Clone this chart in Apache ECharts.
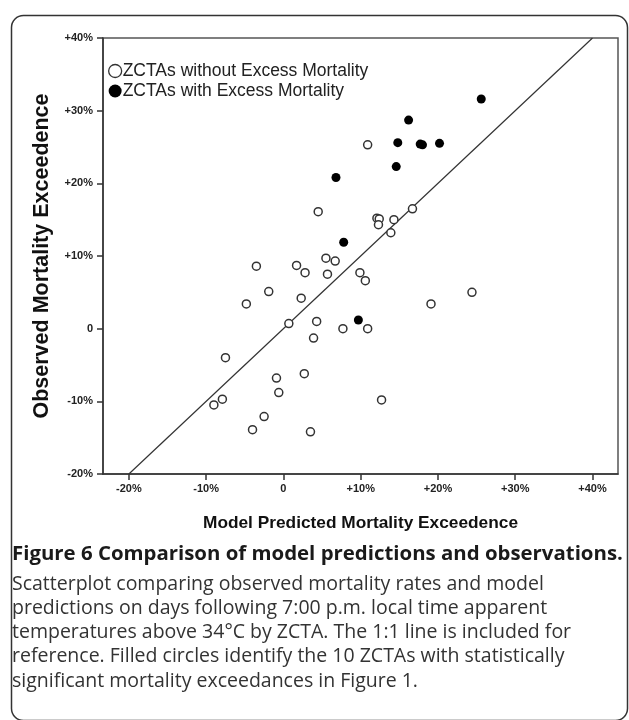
<!DOCTYPE html>
<html>
<head>
<meta charset="utf-8">
<script src="https://cdn.jsdelivr.net/npm/echarts@6/dist/echarts.min.js"></script>
<style>
  html, body { margin: 0; padding: 0; background: #fff; }
  #chart { width: 629px; height: 720px; }
</style>
</head>
<body>
<div id="chart"></div>
<script>
// ---- Data (percent) ----
const withoutExcess = [
  [4.5, 16.1], [5.5, 9.7], [6.7, 9.3], [-3.5, 8.6], [1.7, 8.7], [10.9, 25.3],
  [16.7, 16.5], [12.1, 15.2], [12.4, 15.1], [12.3, 14.3], [14.3, 15.0], [13.9, 13.2],
  [2.8, 7.7], [5.7, 7.5], [-1.9, 5.1], [-4.8, 3.4], [2.3, 4.2], [0.7, 0.7],
  [4.3, 1.0], [7.7, 0.0], [3.9, -1.3], [-7.5, -4.0], [2.7, -6.2], [-0.9, -6.8],
  [-0.6, -8.8], [-7.9, -9.7], [-9.0, -10.5], [-2.5, -12.1], [-4.0, -13.9], [3.5, -14.2],
  [9.9, 7.7], [10.6, 6.6], [19.1, 3.4], [24.4, 5.0], [10.9, 0.0], [12.7, -9.8]
];
const withExcess = [
  [6.8, 20.8], [7.8, 11.9], [25.6, 31.6], [16.2, 28.7], [14.8, 25.6],
  [17.7, 25.4], [18.0, 25.3], [20.2, 25.5], [14.6, 22.3], [9.7, 1.2]
];
const identityLine = [[-20, -20], [40, 40]];
const tickValues = [-20, -10, 0, 10, 20, 30, 40];
const tickLabels = ['-20%', '-10%', '0', '+10%', '+20%', '+30%', '+40%'];
const seriesNames = ['ZCTAs without Excess Mortality', 'ZCTAs with Excess Mortality'];
const xAxisTitle = 'Model Predicted Mortality Exceedence';
const yAxisTitle = 'Observed Mortality Exceedence';
const captionTitle = 'Figure 6 Comparison of model predictions and observations.';
const captionLines = [
  'Scatterplot comparing observed mortality rates and model',
  'predictions on days following 7:00 p.m. local time apparent',
  'temperatures above 34\u00B0C by ZCTA. The 1:1 line is included for',
  'reference. Filled circles identify the 10 ZCTAs with statistically',
  'significant mortality exceedances in Figure 1.'
];

const fmt = v => {
  const i = tickValues.indexOf(Math.round(v));
  return i >= 0 ? tickLabels[i] : '';
};

const chart = echarts.init(document.getElementById('chart'), null, { renderer: 'canvas' });

const graphics = [
  {
    type: 'rect', left: 9, top: 13, z: -1,
    shape: { width: 616, height: 705, r: 12 },
    style: { fill: 'none', stroke: '#333', lineWidth: 1.5 }
  },
  {
    type: 'text', left: 12, top: 544,
    style: { text: captionTitle, font: 'bold 20.4px "Open Sans"', fill: '#1a1a1a' }
  }
];
captionLines.forEach((t, i) => {
  graphics.push({
    type: 'text', left: 12, top: 574 + i * 24.3,
    style: { text: t, font: '19.5px "Open Sans"', fill: '#333' }
  });
});

const axisCommon = {
  axisLine: { show: true, onZero: false, lineStyle: { color: '#333', width: 1.5 } },
  axisTick: { show: true, length: 6, lineStyle: { color: '#333', width: 1.5 }, customValues: tickValues },
  splitLine: { show: false },
  axisLabel: {
    customValues: tickValues,
    formatter: fmt,
    fontFamily: 'Liberation Sans', fontWeight: 'bold', fontSize: 11, color: '#222'
  },
  nameLocation: 'middle'
};

chart.setOption({
  animation: false,
  backgroundColor: '#fff',
  grid: {
    left: 103, right: 11, top: 38, bottom: 246,
    show: true, borderColor: '#555', borderWidth: 1.5, backgroundColor: 'transparent'
  },
  legend: {
    orient: 'vertical', left: 103, top: 57, itemGap: 2,
    itemWidth: 13, itemHeight: 13,
    textStyle: { fontFamily: 'Liberation Sans', fontSize: 17.5, lineHeight: 15, color: '#222', padding: [0, 0, 0, -4] },
    data: [
      { name: seriesNames[0], icon: 'circle', itemStyle: { color: '#fff', borderColor: '#333', borderWidth: 1.3 } },
      { name: seriesNames[1], icon: 'circle', itemStyle: { color: '#000', borderColor: '#000', borderWidth: 0 } }
    ]
  },
  xAxis: Object.assign({}, axisCommon, {
    type: 'value', min: -23.35, max: 43.3,
    name: xAxisTitle, nameGap: 41,
    nameTextStyle: { fontFamily: 'Liberation Sans', fontWeight: 'bold', fontSize: 17.3, color: '#111' },
    axisLabel: Object.assign({}, axisCommon.axisLabel, { margin: 9 })
  }),
  yAxis: Object.assign({}, axisCommon, {
    type: 'value', min: -20, max: 40, interval: 10,
    name: yAxisTitle, nameGap: 50,
    nameTextStyle: { fontFamily: 'Liberation Sans', fontWeight: 'bold', fontSize: 21.5, color: '#111' },
    axisLabel: Object.assign({}, axisCommon.axisLabel, { margin: 10 })
  }),
  graphic: graphics,
  series: [
    {
      name: '1:1', type: 'line', data: identityLine, symbol: 'none', silent: true,
      lineStyle: { color: '#333', width: 1.2 }, z: 1
    },
    {
      name: seriesNames[0], type: 'scatter', data: withoutExcess, symbol: 'circle', symbolSize: 8,
      itemStyle: { color: '#fff', borderColor: '#333', borderWidth: 1.5, opacity: 1 }, z: 3
    },
    {
      name: seriesNames[1], type: 'scatter', data: withExcess, symbol: 'circle', symbolSize: 9,
      itemStyle: { color: '#000', borderColor: '#000', borderWidth: 0, opacity: 1 }, z: 4
    }
  ]
});
</script>
</body>
</html>
